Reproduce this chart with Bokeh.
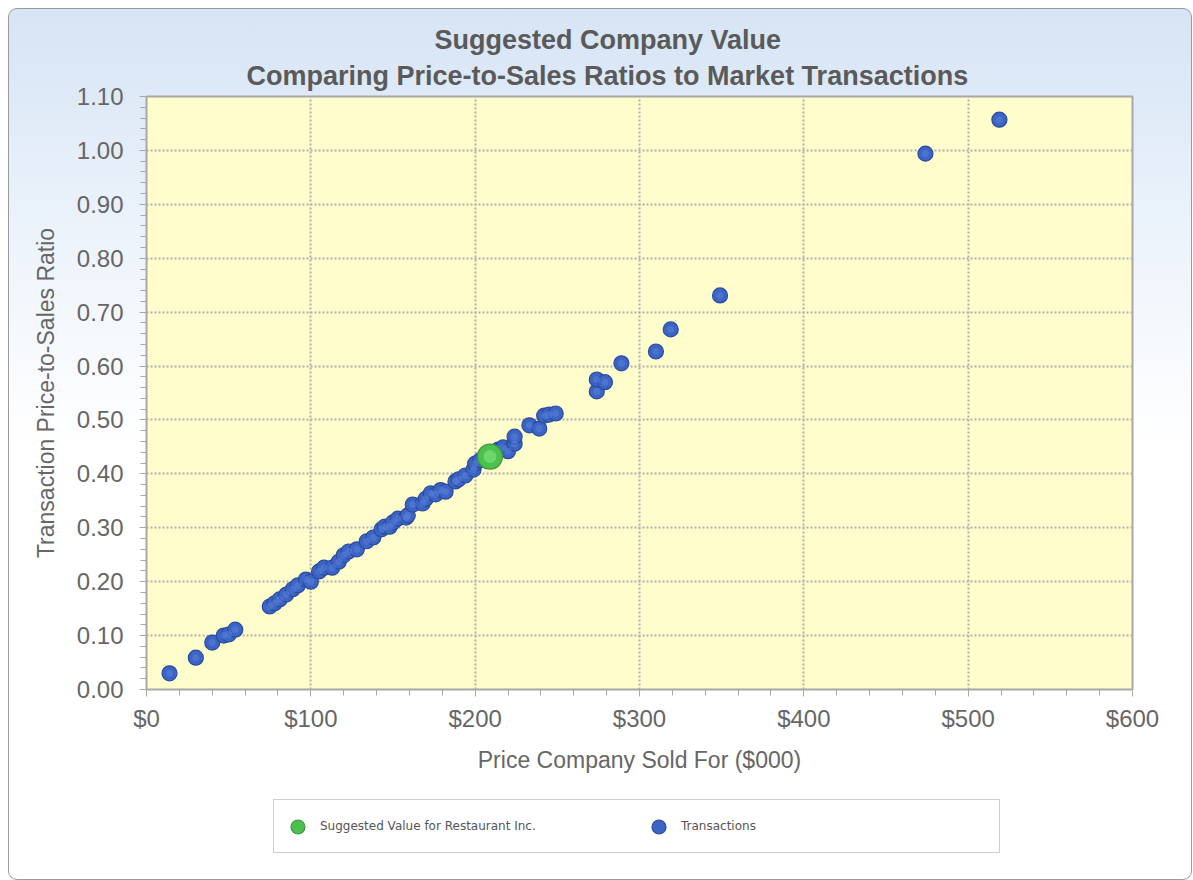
from bokeh.plotting import figure
from bokeh.layouts import column
from bokeh.models import (ColumnDataSource, Legend, LegendItem, Title, Range1d,
                          NumeralTickFormatter, FixedTicker)
from bokeh.embed import file_html
from bokeh.resources import INLINE

# ---- data ----
tx_price = [14, 30, 40, 47, 50, 54, 75, 78, 81, 85, 89, 92, 97, 100, 105, 108,
            113, 117, 120, 123, 128, 134, 138, 143, 145, 148, 150, 153, 158, 159,
            162, 168, 170, 173, 176, 179, 182, 188, 190, 194, 199, 200, 203, 214,
            217, 220, 224, 224, 233, 239, 242, 245, 249, 274, 274, 279, 289, 310,
            319, 349, 474, 519]
tx_ratio = [0.030, 0.059, 0.087, 0.100, 0.102, 0.111, 0.154, 0.160, 0.167, 0.176,
            0.186, 0.193, 0.204, 0.200, 0.219, 0.226, 0.226, 0.237, 0.249, 0.256,
            0.260, 0.275, 0.282, 0.297, 0.302, 0.302, 0.310, 0.317, 0.319, 0.323,
            0.343, 0.345, 0.354, 0.364, 0.362, 0.370, 0.367, 0.386, 0.390, 0.397,
            0.408, 0.419, 0.425, 0.445, 0.449, 0.442, 0.456, 0.469, 0.490, 0.484,
            0.508, 0.510, 0.512, 0.553, 0.575, 0.570, 0.605, 0.627, 0.668, 0.731,
            0.994, 1.057]
sugg_price = [209]
sugg_ratio = [0.432]

x_ticks = [0, 100, 200, 300, 400, 500, 600]
y_ticks = [0.0, 0.1, 0.2, 0.3, 0.4, 0.5, 0.6, 0.7, 0.8, 0.9, 1.0, 1.1]

title_line1 = "Suggested Company Value"
title_line2 = "Comparing Price-to-Sales Ratios to Market Transactions"
x_label = "Price Company Sold For ($000)"
y_label = "Transaction Price-to-Sales Ratio"
legend_labels = ["Suggested Value for Restaurant Inc.", "Transactions"]

GRAY = "#5a5a5a"
AX = "#a8a8a8"
BLUE, BLUE_EDGE, BLUE_HI = "#3c64c4", "#2b4c9e", "#5a82dc"
GREEN, GREEN_EDGE, GREEN_HI = "#4cbf4c", "#3a9a3a", "#7ae07a"

p = figure(frame_width=986, frame_height=593, output_backend="svg",
           toolbar_location=None,
           x_range=Range1d(0, 600), y_range=Range1d(0, 1.10),
           min_border_left=137, min_border_right=59, min_border_top=87,
           min_border_bottom=95)
p.border_fill_color = None
p.background_fill_color = "#fefdcb"
p.outline_line_color = AX
p.outline_line_width = 2

# titles
t2 = Title(text=title_line2, align="left", offset=100, standoff=11,
           text_font="Liberation Sans", text_font_size="27px",
           text_font_style="bold", text_color=GRAY)
t1 = Title(text=title_line1, align="left", offset=288, standoff=-3,
           text_font="Liberation Sans", text_font_size="27px",
           text_font_style="bold", text_color=GRAY)
p.add_layout(t2, "above")
p.add_layout(t1, "above")

# axes
for ax in (p.xaxis[0], p.yaxis[0]):
    ax.axis_line_color = AX
    ax.major_tick_line_color = AX
    ax.minor_tick_line_color = AX
    ax.major_tick_in = 0
    ax.major_tick_out = 7
    ax.minor_tick_in = 0
    ax.minor_tick_out = 6
    ax.major_label_text_font = "Liberation Sans"
    ax.major_label_text_font_size = "24px"
    ax.major_label_text_color = "#666666"
    ax.axis_label_text_font = "Liberation Sans"
    ax.axis_label_text_font_size = "23px"
    ax.axis_label_text_font_style = "normal"
    ax.axis_label_text_color = "#666666"

p.xaxis.ticker = FixedTicker(ticks=x_ticks,
                             minor_ticks=[v * 20 for v in range(31)])
p.yaxis.ticker = FixedTicker(ticks=y_ticks,
                             minor_ticks=[round(v * 0.02, 2) for v in range(56)])
p.xaxis.formatter = NumeralTickFormatter(format="$0")
p.yaxis.formatter = NumeralTickFormatter(format="0.00")
p.xaxis.axis_label = x_label
p.yaxis.axis_label = y_label
p.xaxis.major_label_standoff = 8
p.xaxis.axis_label_standoff = 12
p.yaxis.major_label_standoff = 16
p.yaxis.axis_label_standoff = 15

p.grid.grid_line_color = "#b0b0b0"
p.grid.grid_line_dash = "2 2"
p.grid.grid_line_width = 2

src_tx = ColumnDataSource(dict(x=tx_price, y=tx_ratio))
src_sg = ColumnDataSource(dict(x=sugg_price, y=sugg_ratio))

p.scatter("x", "y", source=src_tx, size=15, marker="circle",
          fill_color=BLUE, line_color=BLUE_EDGE, line_width=1.2)
p.scatter("x", "y", source=src_tx, size=7, marker="circle",
          fill_color=BLUE_HI, fill_alpha=0.5, line_color=None)
p.scatter("x", "y", source=src_sg, size=25, marker="circle",
          fill_color=GREEN, line_color=GREEN_EDGE, line_width=1.2)
p.scatter("x", "y", source=src_sg, size=13, marker="circle",
          fill_color=GREEN_HI, fill_alpha=0.7, line_color=None)

# ---- legend strip (separate figure, no axes) ----
lg = figure(width=1182, height=95, output_backend="svg", toolbar_location=None,
            x_range=Range1d(-10, -9), y_range=Range1d(-10, -9),
            x_axis_location=None, y_axis_location=None,
            min_border_left=0, min_border_right=0, min_border_top=0,
            min_border_bottom=0)
lg.grid.visible = False
lg.outline_line_color = None
lg.background_fill_color = None
lg.border_fill_color = None
lr_sg = lg.scatter("x", "y", source=src_sg, size=14, marker="circle",
                   fill_color=GREEN, line_color=GREEN_EDGE, line_width=1.2)
lr_tx = lg.scatter("x", "y", source=src_tx, size=14, marker="circle",
                   fill_color=BLUE, line_color=BLUE_EDGE, line_width=1.2)

legend = Legend(items=[LegendItem(label=legend_labels[0], renderers=[lr_sg]),
                       LegendItem(label=legend_labels[1], renderers=[lr_tx])],
                orientation="horizontal", location=(127, 26),
                padding=6, spacing=9, glyph_width=35, glyph_height=35,
                label_standoff=5, label_width=312, label_height=40,
                label_text_font="DejaVu Sans", label_text_font_size="12px",
                label_text_color="#555555",
                border_line_color="#a0a0a0", border_line_width=1.5,
                background_fill_color="white", background_fill_alpha=1,
                margin=0)
lg.add_layout(legend, "center")

layout = column(p, lg, spacing=0)
layout.styles = {"background": "linear-gradient(to bottom, #d6e4f5 0%, #eef4fb 28%, #ffffff 50%, #ffffff 100%)",
                 "border": "1px solid #9a9a9a", "border-radius": "9px",
                 "margin-left": "8px", "margin-top": "8px"}

open("out.html", "w").write(file_html(layout, INLINE))
